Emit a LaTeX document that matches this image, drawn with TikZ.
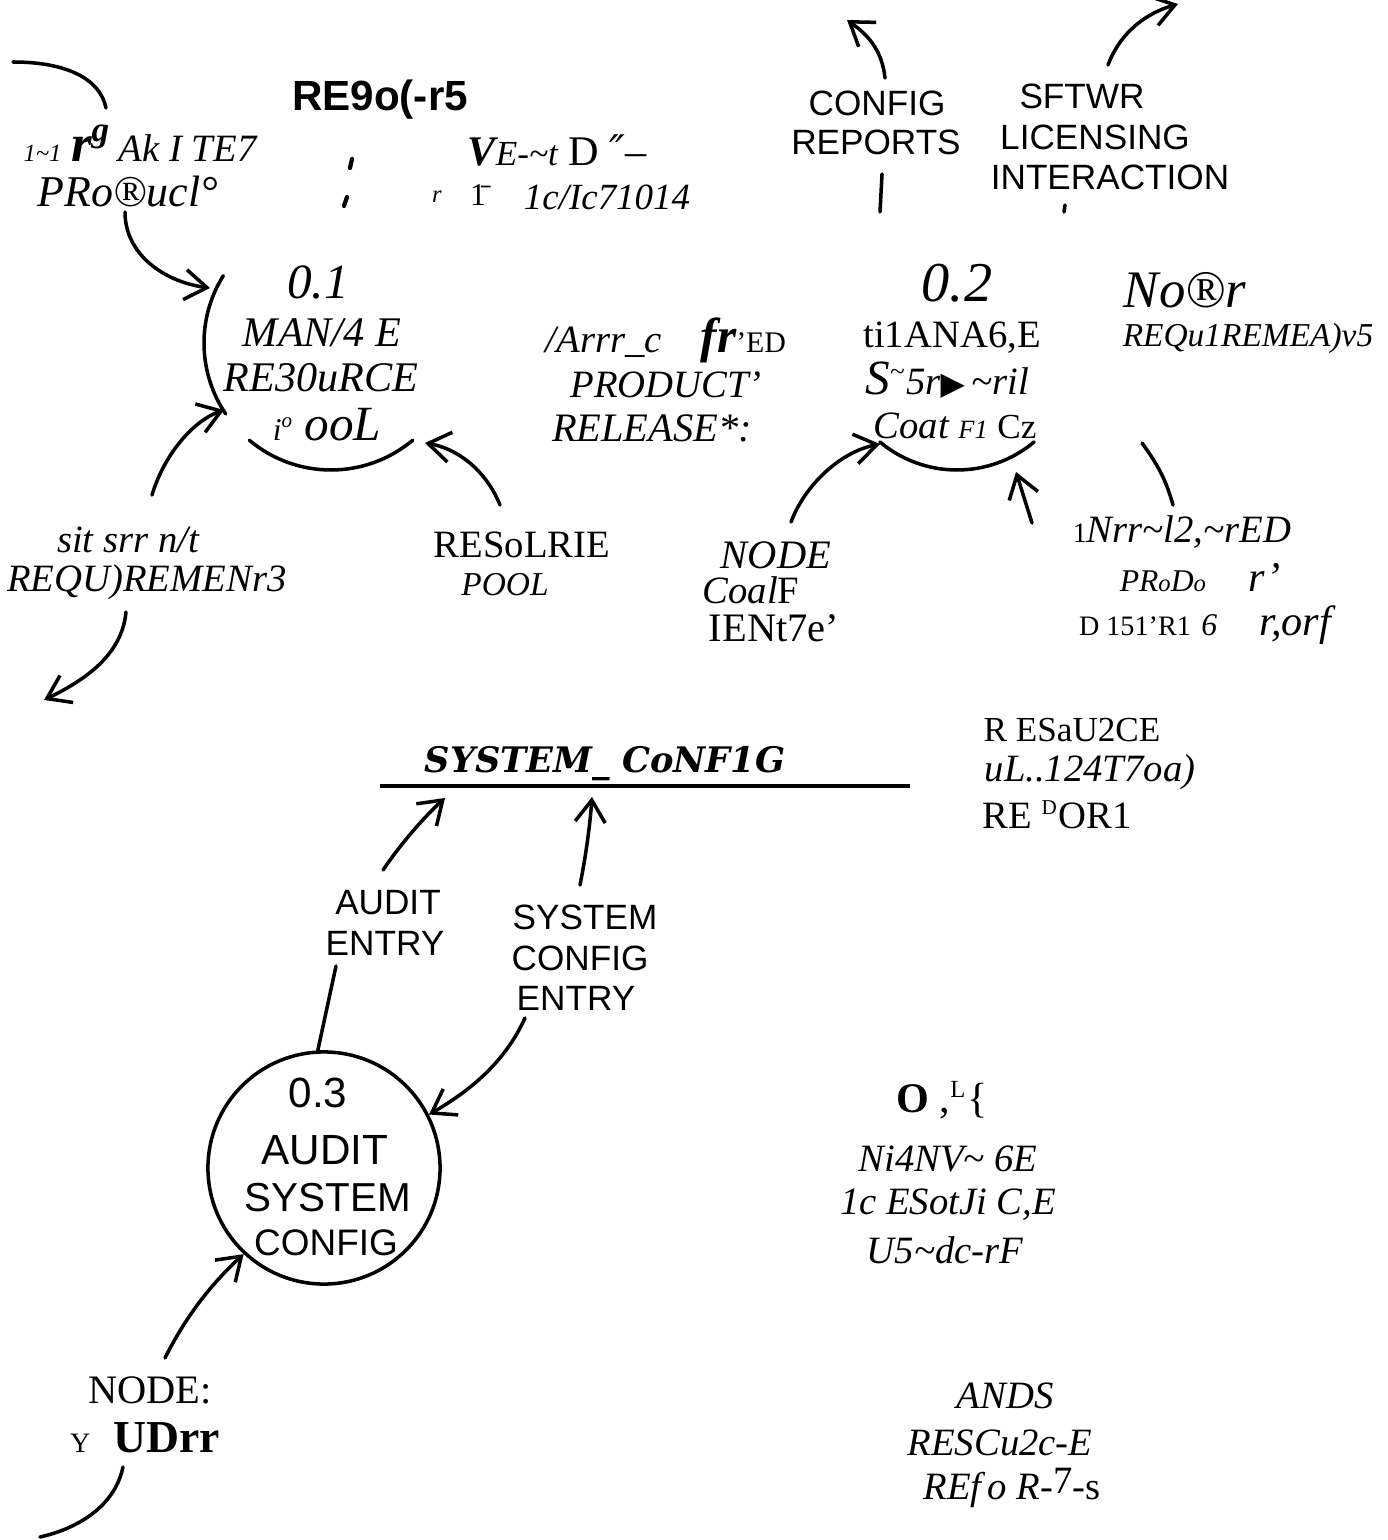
\documentclass[tikz,border=0pt]{standalone}
\usepackage{fontspec}
\setmainfont{Liberation Serif}
\setsansfont{Liberation Sans}
\newfontfamily\handfont{Liberation Sans}
\newfontfamily\dvs{DejaVu Sans}
\newfontfamily\dvserif{DejaVu Serif}
\usetikzlibrary{arrows.meta}

\begin{document}
\begin{tikzpicture}[x=0.01cm, y=-0.01cm,
  txt/.style={inner sep=0pt, font=\fontsize{12}{12}\selectfont\itshape},
  rom/.style={inner sep=0pt, font=\fontsize{11}{11}\selectfont},
  hand/.style={inner sep=0pt, font=\fontsize{10}{10}\selectfont\handfont},
  strk/.style={line width=1pt, line cap=round},
  flow/.style={strk, -{Straight Barb[length=2.2mm, width=3mm]}}]
\useasboundingbox (0,0) rectangle (1387,1540);

% top left labels
\node[txt, font=\fontsize{11}{11}\selectfont\itshape] (prodA) at (140,143) {{\fontsize{7}{7}\selectfont 1\textasciitilde 1} {\bfseries\fontsize{15}{15}\selectfont r}\raisebox{1.1ex}{\bfseries\fontsize{10}{10}\selectfont g} Ak I TE7};
\node[txt, font=\fontsize{12.5}{12.5}\selectfont\itshape] (prodB) at (128,192) {PRo®ucl°};
\node[inner sep=0pt, font=\fontsize{12}{12}\selectfont\bfseries\sffamily] (reqts) at (380,100) {RE9o(-r5};
\node[txt] (vetd) at (557,150) {{\bfseries V}{\fontsize{10}{10}\selectfont E-\textasciitilde t} {\upshape D} {\dvserif ″}–};
\node[txt, font=\fontsize{7}{7}\selectfont\itshape] (smr) at (437,197) {r};
\node[rom, font=\fontsize{9}{9}\selectfont] (smi) at (478,195) {\={1}};
\node[txt, font=\fontsize{10.5}{10.5}\selectfont\itshape] (icnum) at (607,197) {1c/Ic71014};
\draw[line width=1.2pt, line cap=round] (352,159) -- (350,168);
\draw[line width=1.2pt, line cap=round] (347,197) -- (344,206);

% process 0.1
\coordinate (p1) at (331,343);
\draw[strk] ([shift={(212:127)}]p1) arc[start angle=212, end angle=146, radius=127];
\draw[strk] ([shift={(130:127)}]p1) arc[start angle=130, end angle=50, radius=127];
\node[txt, font=\fontsize{14}{14}\selectfont\itshape] (n01) at (318,282) {0.1};
\node[txt] (man) at (322,333) {MAN/4 E};
\node[txt] (rsrc) at (321,378) {RE30uRCE};
\node[txt] (pool1) at (327,425) {{\fontsize{9}{9}\selectfont i\textsuperscript{o}} {\fontsize{14}{14}\selectfont ooL}};

% middle
\node[txt, font=\fontsize{11}{11}\selectfont\itshape] (relA) at (666,340) {/Arrr\_c\quad {\bfseries\fontsize{14}{14}\selectfont fr}{\upshape\fontsize{8.5}{8.5}\selectfont\textquoteright ED}};
\node[txt, font=\fontsize{11}{11}\selectfont\itshape] (relB) at (666,385) {PRODUCT\textquoteright};
\node[txt, font=\fontsize{11.5}{11.5}\selectfont\itshape] (relC) at (652,428) {RELEASE*:};

% process 0.2
\coordinate (p2) at (957,350);
\draw[strk] ([shift={(130:120)}]p2) arc[start angle=130, end angle=50, radius=120];
\node[txt, font=\fontsize{16}{16}\selectfont\itshape] (n02) at (957,283) {0.2};
\node[rom] (mng) at (952,338) {ti1ANA6,E};
\node[txt, font=\fontsize{11}{11}\selectfont\itshape] (sysr) at (947,380) {{\fontsize{14}{14}\selectfont S}\textsuperscript{\textasciitilde}5r{\dvs\fontsize{9}{9}\selectfont ▶}\,\textasciitilde ril};
\node[txt, font=\fontsize{11}{11}\selectfont\itshape] (coat) at (955,426) {Coat {\fontsize{7.5}{7.5}\selectfont F1} {\upshape\fontsize{10}{10}\selectfont Cz}};
\node[txt, font=\fontsize{15}{15}\selectfont\itshape] (nor) at (1185,290) {No®r};
\node[txt, font=\fontsize{9.5}{9.5}\selectfont\itshape] (reqB) at (1248,338) {REQu1REMEA)v5};

\node[txt, font=\fontsize{11.5}{11.5}\selectfont\itshape] (ndA) at (776,555) {NODE};
\node[txt, font=\fontsize{11}{11}\selectfont\itshape] (ndB) at (751,590) {Coal{\upshape F}};
\node[rom, font=\fontsize{11.5}{11.5}\selectfont] (ndC) at (774,628) {IENt7e\textquoteright};

\node[txt, font=\fontsize{11}{11}\selectfont\itshape] (intA) at (1182,532) {{\upshape\fontsize{8}{8}\selectfont 1}Nrr\textasciitilde l2,\textasciitilde rED};
\node[txt] (intB) at (1200,578) {{\fontsize{9}{9}\selectfont PR{\fontsize{7}{7}\selectfont o}D{\fontsize{7}{7}\selectfont o}}\quad r\textquoteright};
\node[txt] (intC) at (1205,625) {{\upshape\fontsize{8}{8}\selectfont D 151\textquoteright R1} {\fontsize{9}{9}\selectfont 6}\quad r,orf};

\node[txt, font=\fontsize{11}{11}\selectfont\itshape] (sysA) at (128,540) {sit srr n/t};
\node[txt, font=\fontsize{11}{11}\selectfont\itshape] (sysB) at (147,582) {REQU)REMENr3};
\node[rom] (poolA) at (522,545) {RESoLRIE};
\node[txt, font=\fontsize{9.5}{9.5}\selectfont\itshape] (poolB) at (505,585) {POOL};

% top right
\node[hand] (cfgA) at (877,103) {CONFIG};
\node[hand] (cfgB) at (876,142) {REPORTS};
\node[hand] (swA) at (1082,96) {SFTWR};
\node[hand] (swB) at (1095,137) {LICENSING};
\node[hand] (swC) at (1110,177) {INTERACTION};

% data store
\node[inner sep=0pt, font=\fontsize{10}{10}\selectfont\dvserif\bfseries\itshape] (store) at (605,764) {SYSTEM\_ CoNF1G};
\coordinate (st0) at (380,786);
\coordinate (st1) at (910,786);
\draw[line width=1.4pt] (st0) -- (st1);

\node[rom, font=\fontsize{10}{10}\selectfont] (rrA) at (1072,730) {R ESaU2CE};
\node[txt, font=\fontsize{11}{11}\selectfont\itshape] (rrB) at (1090,772) {uL..124T7oa)};
\node[rom] (rrC) at (1057,815) {RE \textsuperscript{\fontsize{6}{6}\selectfont D}OR1};

\node[hand] (aeA) at (388,903) {AUDIT};
\node[hand] (aeB) at (385,943) {ENTRY};
\node[hand] (scA) at (585,917) {SYSTEM};
\node[hand] (scB) at (580,958) {CONFIG};
\node[hand] (scC) at (576,998) {ENTRY};

% process 0.3
\node[circle, draw, line width=1pt, minimum size=2.32cm, inner sep=0pt] (audit) at (324,1168) {};
\node[hand, font=\fontsize{12}{12}\selectfont\handfont] (n03) at (318,1093) {0.3};
\node[hand, font=\fontsize{12}{12}\selectfont\handfont] (auA) at (325,1150) {AUDIT};
\node[hand, font=\fontsize{11.5}{11.5}\selectfont\handfont] (auB) at (328,1198) {SYSTEM};
\node[hand, font=\fontsize{10.5}{10.5}\selectfont\handfont] (auC) at (326,1243) {CONFIG};

\node[rom, font=\fontsize{12}{12}\selectfont] (mgA) at (942,1100) {{\bfseries O} ,\textsuperscript{\fontsize{7}{7}\selectfont L}\{};
\node[txt, font=\fontsize{11}{11}\selectfont\itshape] (mgB) at (948,1159) {Ni4NV\textasciitilde\ 6E};
\node[txt, font=\fontsize{11}{11}\selectfont\itshape] (mgC) at (948,1205) {1c ESotJi C,E};
\node[txt, font=\fontsize{11}{11}\selectfont\itshape] (mgD) at (945,1250) {U5\textasciitilde dc-rF};

\node[rom, font=\fontsize{11.5}{11.5}\selectfont] (ndD) at (150,1390) {NODE:};
\node[rom, font=\fontsize{13}{13}\selectfont\bfseries] (ndE) at (145,1438) {{\mdseries\fontsize{8}{8}\selectfont Y}\enspace UDrr};

\node[txt, font=\fontsize{11}{11}\selectfont\itshape] (anA) at (1005,1396) {ANDS};
\node[txt, font=\fontsize{11}{11}\selectfont\itshape] (anB) at (1000,1443) {RESCu2c-E};
\node[txt, font=\fontsize{11}{11}\selectfont\itshape] (anC) at (1012,1488) {REf\,o R{\upshape -\raisebox{.3ex}{7}-s}};

% connectors
\coordinate (c0a) at (13,62);
\coordinate (c0b) at (106,108);
\draw[strk] (c0a) .. controls (65,62) and (100,78) .. (c0b);
\coordinate (c1a) at (125,212);
\coordinate (c1b) at (210,288);
\draw[flow] (c1a) .. controls (125,255) and (165,282) .. (c1b);
\coordinate (c2a) at (152,495);
\coordinate (c2b) at (224,410);
\draw[flow] (c2a) .. controls (165,452) and (195,420) .. (c2b);
\coordinate (c3a) at (126,612);
\coordinate (c3b) at (44,700);
\draw[flow] (c3a) .. controls (122,655) and (85,680) .. (c3b);
\coordinate (c4a) at (500,505);
\coordinate (c4b) at (425,443);
\draw[flow] (c4a) .. controls (485,468) and (455,448) .. (c4b);

\coordinate (c5a) at (885,78);
\coordinate (c5b) at (847,20);
\draw[flow] (c5a) .. controls (882,50) and (868,35) .. (c5b);
\coordinate (c6a) at (1108,65);
\coordinate (c6b) at (1178,4);
\draw[flow] (c6a) .. controls (1118,38) and (1140,15) .. (c6b);
\coordinate (c5c) at (882,174);
\coordinate (c5d) at (880,212);
\draw[strk] (c5c) -- (c5d);
\coordinate (c6c) at (1065,205);
\coordinate (c6d) at (1064,212);
\draw[strk] (c6c) -- (c6d);

\coordinate (c7a) at (791,522);
\coordinate (c7b) at (880,444);
\draw[flow] (c7a) .. controls (805,485) and (840,452) .. (c7b);
\coordinate (c8a) at (1032,523);
\coordinate (c8b) at (1016,472);
\draw[flow] (c8a) -- (c8b);
\coordinate (c8c) at (1142,443);
\coordinate (c8d) at (1173,505);
\draw[strk] (c8c) .. controls (1158,465) and (1166,480) .. (c8d);

\coordinate (c9a) at (383,870);
\coordinate (c9b) at (445,798);
\draw[flow] (c9a) .. controls (400,845) and (423,818) .. (c9b);
\coordinate (c10a) at (580,885);
\coordinate (c10b) at (592,797);
\draw[flow] (c10a) .. controls (586,855) and (590,825) .. (c10b);
\coordinate (c11a) at (336,966);
\draw[strk] (c11a) -- (audit.93);
\coordinate (c11b) at (525,1018);
\draw[flow] (c11b) .. controls (508,1055) and (480,1085) .. (audit.27);
\coordinate (c12) at (165,1358);
\draw[flow] (c12) .. controls (185,1318) and (210,1285) .. (audit.227);
\coordinate (c13a) at (123,1467);
\coordinate (c13b) at (40,1537);
\draw[strk] (c13a) .. controls (115,1505) and (80,1528) .. (c13b);
\end{tikzpicture}
\end{document}
